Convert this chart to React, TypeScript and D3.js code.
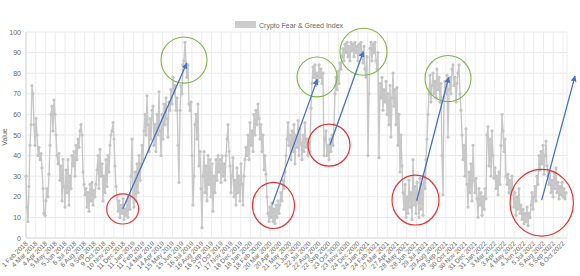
import React from "react";
import * as d3 from "d3";

// ---- data ----
const seriesName = "Crypto Fear & Greed Index";
const yTicks = [0, 10, 20, 30, 40, 50, 60, 70, 80, 90, 100];
const xLabels = [
  "1 Feb 2018", "4 Mar 2018", "4 Apr 2018", "5 May 2018", "5 Jun 2018", "6 Jul 2018", "6 Aug 2018",
  "9 Sep 2018", "9 Oct 2018", "10 Nov 2018", "11 Dec 2018", "11 Jan 2019", "11 Feb 2019",
  "14 Mar 2019", "14 Apr 2019", "15 May 2019", "15 Jun 2019", "16 Jul 2019", "16 Aug 2019",
  "16 Sep 2019", "17 Oct 2019", "17 Nov 2019", "18 Dec 2019", "18 Jan 2020", "18 Feb 2020",
  "20 Mar 2020", "20 Apr 2020", "21 May 2020", "21 Jun 2020", "22 Jul 2020", "22 Aug 2020",
  "22 Sep 2020", "23 Oct 2020", "23 Nov 2020", "24 Dec 2020", "24 Jan 2021", "24 Feb 2021",
  "27 Mar 2021", "27 Apr 2021", "28 May 2021", "28 Jun 2021", "29 Jul 2021", "29 Aug 2021",
  "29 Sep 2021", "30 Oct 2021", "30 Nov 2021", "31 Dec 2021", "31 Jan 2022", "3 Mar 2022",
  "3 Apr 2022", "4 May 2022", "4 Jun 2022", "5 Jul 2022", "5 Aug 2022", "5 Sep 2022", "6 Oct 2022",
];
const values2018 = [
  30, 15, 8, 25, 45, 55, 74, 70, 55, 45, 58, 50, 40, 44, 38, 41, 34, 24, 12, 11,
  18, 24, 20, 31, 45, 60, 64, 52, 67, 60, 50, 40, 36, 41, 28, 35, 18, 38, 25, 15,
  33, 22, 38, 16, 30, 24, 40, 35, 42, 30, 45, 38, 48, 44, 52, 55, 50, 32, 26, 21,
  24, 15, 22, 13, 26, 18, 27, 16, 23, 20, 26, 33, 40, 24, 43, 30, 36, 18, 30, 22,
  38, 25, 40, 32, 45, 50, 52, 56, 48, 35, 25, 20, 13, 18, 10, 16, 12, 19, 9, 14,
];
const values2019 = [
  11, 18, 10, 20, 14, 30, 48, 20, 15, 32, 18, 36, 22, 40, 28, 36, 45, 38, 52, 60,
  50, 69, 55, 42, 58, 48, 62, 64, 45, 55, 42, 60, 50, 71, 52, 40, 60, 48, 65, 55,
  68, 58, 49, 66, 62, 72, 65, 78, 70, 74, 62, 68, 45, 27, 62, 74, 70, 84, 86, 95,
  85, 78, 84, 65, 62, 66, 40, 16, 30, 55, 60, 48, 65, 35, 42, 24, 5, 30, 42, 22,
  35, 18, 40, 26, 38, 20, 36, 13, 30, 22, 38, 28, 40, 32, 38, 27, 40, 30, 36, 28,
  40, 48, 55, 42, 35, 22, 30, 39, 20, 28, 16, 34, 22, 30, 18, 36, 26, 16, 30, 38,
];
const values2020 = [
  44, 40, 50, 38, 56, 45, 52, 42, 60, 50, 62, 55, 65, 58, 48, 55, 42, 50, 33, 40,
  31, 20, 12, 8, 15, 10, 17, 8, 14, 7, 16, 10, 18, 12, 16, 22, 18, 28, 24, 32,
  40, 48, 56, 45, 50, 38, 52, 42, 55, 36, 50, 44, 57, 40, 53, 46, 38, 50, 42, 56,
  44, 48, 40, 46, 42, 63, 75, 83, 78, 84, 74, 80, 76, 84, 78, 82, 75, 80, 40, 48,
  52, 40, 45, 38, 48, 42, 50, 45, 55, 70, 78, 72, 81, 75, 85, 82, 88, 92, 86, 94,
];
const values2021 = [
  90, 95, 88, 93, 86, 95, 91, 94, 88, 95, 90, 93, 86, 94, 89, 95, 90, 85, 93, 82,
  78, 88, 40, 70, 92, 95, 86, 94, 90, 95, 86, 82, 90, 39, 75, 68, 78, 62, 72, 66,
  76, 60, 70, 55, 74, 49, 68, 80, 64, 72, 55, 73, 45, 60, 32, 50, 35, 22, 14, 26,
  10, 20, 12, 28, 15, 22, 9, 38, 16, 25, 12, 27, 18, 10, 29, 14, 26, 11, 30, 24,
  38, 48, 60, 70, 79, 66, 74, 80, 70, 76, 68, 82, 72, 78, 66, 75, 40, 21, 68, 76,
  70, 79, 49, 72, 78, 70, 82, 84, 74, 78, 66, 75, 80, 84, 70, 62, 50, 38, 45, 30,
];
const values2022 = [
  53, 26, 15, 32, 22, 36, 18, 45, 28, 22, 29, 19, 10, 24, 16, 22, 11, 20, 14, 24,
  19, 50, 54, 35, 48, 30, 52, 40, 29, 34, 24, 30, 21, 32, 26, 45, 60, 52, 42, 48,
  30, 26, 31, 22, 28, 21, 30, 24, 15, 22, 11, 20, 14, 24, 12, 16, 9, 14, 7, 12,
  8, 15, 6, 12, 10, 16, 22, 14, 20, 25, 18, 30, 26, 40, 33, 42, 36, 45, 31, 40,
  47, 35, 30, 26, 32, 22, 28, 20, 32, 24, 34, 22, 27, 19, 25, 21, 27, 20, 24, 19, 22,
];
const values = [...values2018, ...values2019, ...values2020, ...values2021, ...values2022];

// annotations in data units (index along the series, index value)
const redCircles = [
  { i: 96.7, v: 14.1, ri: 16, rv: 7.3 },
  { i: 247.5, v: 15.8, ri: 21, rv: 11.2 },
  { i: 303, v: 45.1, ri: 21, rv: 10.2 },
  { i: 389.5, v: 18.4, ri: 23.5, rv: 12.1 },
  { i: 515.7, v: 17.1, ri: 31.7, rv: 16.2 },
];
const greenCircles = [
  { i: 158, v: 86.4, ri: 23, rv: 11.2 },
  { i: 291, v: 78.2, ri: 20, rv: 9.7 },
  { i: 337.5, v: 90.4, ri: 23.5, rv: 11.4 },
  { i: 422, v: 77.4, ri: 23, rv: 11.2 },
];
const arrows = [
  { i0: 96.7, v0: 14.1, i1: 160.7, v1: 84.8 },
  { i0: 246.3, v0: 16.2, i1: 291.3, v1: 77 },
  { i0: 304, v0: 45.3, i1: 337.3, v1: 90.4 },
  { i0: 390.7, v0: 18.1, i1: 422.7, v1: 78 },
  { i0: 515.7, v0: 18.4, i1: 549, v1: 78.6 },
];

const W = 580, H = 276;
const left = 26, right = 567, top = 32, bottom = 238;
const font = "'Liberation Sans', Arial, Helvetica, sans-serif";

export default function App() {
  const x = d3.scaleLinear().domain([0, values.length - 1]).range([left, 566]);
  const y = d3.scaleLinear().domain([0, 100]).range([bottom, top]);
  const xt = d3.scalePoint<string>().domain(xLabels).range([left, 563]);
  const line = d3.line<number>().x((_, i) => x(i)).y((d) => y(d));
  const pxPerI = x(1) - x(0);
  const pxPerV = y(0) - y(1);

  return (
    <svg width={W} height={H} style={{ position: "absolute", left: 0, top: 0, background: "#fff" }}>
      <defs>
        <marker id="ah" viewBox="0 0 10 10" refX="9" refY="5" markerWidth="4.5" markerHeight="4.5" orient="auto">
          <path d="M0,0 L10,5 L0,10 z" fill="#4472C4" />
        </marker>
      </defs>
      {/* legend */}
      <rect x={235} y={21} width={21} height={7} fill="#cccccc" />
      <text x={259} y={27.5} fontSize={7} fill="#666" fontFamily={font}>{seriesName}</text>
      {/* grid */}
      {yTicks.map((t) => (
        <g key={"y" + t}>
          <line x1={left} x2={right} y1={y(t)} y2={y(t)} stroke={t === 0 ? "#d0d0d0" : "#e8e8e8"} strokeWidth={1} />
          <text x={21} y={y(t) + 2.5} fontSize={7} fill="#666" textAnchor="end" fontFamily={font}>{t}</text>
        </g>
      ))}
      {xLabels.map((l) => (
        <g key={l}>
          <line x1={xt(l)} x2={xt(l)} y1={top} y2={bottom} stroke="#ececec" strokeWidth={1} />
          <text
            transform={`translate(${(xt(l) as number) + 2},${bottom + 6}) rotate(-45)`}
            fontSize={6.6}
            fill="#666"
            textAnchor="end"
            fontFamily={font}
          >
            {l}
          </text>
        </g>
      ))}
      <line x1={right} x2={right} y1={top} y2={bottom} stroke="#ececec" />
      <line x1={left} x2={left} y1={top} y2={bottom} stroke="#d8d8d8" />
      <text transform={`translate(7,137) rotate(-90)`} fontSize={7} fill="#666" textAnchor="middle" fontFamily={font}>Value</text>
      {/* series */}
      <path d={line(values) || ""} fill="none" stroke="#c8c8c8" strokeWidth={1.4} />
      {values.map((v, i) => (
        <circle key={i} cx={x(i)} cy={y(v)} r={1.6} fill="#c4c4c4" />
      ))}
      {/* annotations */}
      {redCircles.map((c, k) => (
        <ellipse key={"r" + k} cx={x(c.i)} cy={y(c.v)} rx={c.ri * pxPerI} ry={c.rv * pxPerV} fill="none" stroke="#e8302e" strokeWidth={1.2} />
      ))}
      {greenCircles.map((c, k) => (
        <ellipse key={"g" + k} cx={x(c.i)} cy={y(c.v)} rx={c.ri * pxPerI} ry={c.rv * pxPerV} fill="none" stroke="#7ab648" strokeWidth={1.1} />
      ))}
      {arrows.map((a, k) => (
        <line key={"a" + k} x1={x(a.i0)} y1={y(a.v0)} x2={x(a.i1)} y2={y(a.v1)} stroke="#4472C4" strokeWidth={1.3} markerEnd="url(#ah)" />
      ))}
    </svg>
  );
}
